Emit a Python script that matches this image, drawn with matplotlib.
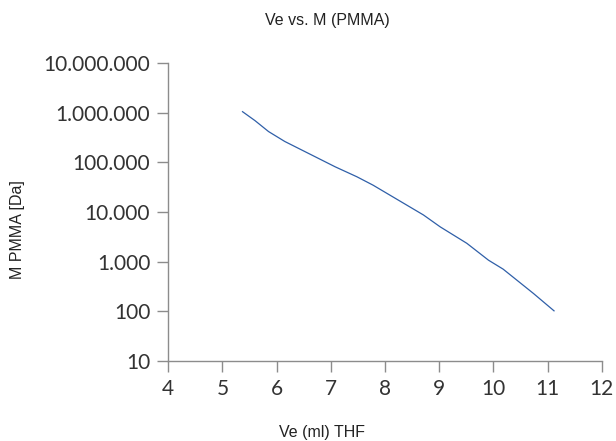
import matplotlib
matplotlib.use("Agg")
import matplotlib.pyplot as plt
from matplotlib import font_manager
from matplotlib.ticker import FixedLocator, FuncFormatter, NullLocator

# Elution volume (ml, THF) vs. molar mass of PMMA
ve_ml = [5.37, 5.60, 5.85, 6.15, 6.46, 6.77, 7.08, 7.48, 7.78, 8.09,
         8.40, 8.71, 9.02, 9.51, 9.91, 10.18, 10.74, 11.12]
log_m = [6.02, 5.84, 5.62, 5.42, 5.25, 5.08, 4.91, 4.71, 4.54, 4.34,
         4.14, 3.94, 3.70, 3.37, 3.03, 2.85, 2.36, 2.01]
mass_da = [10 ** v for v in log_m]

x_ticks = [4, 5, 6, 7, 8, 9, 10, 11, 12]
y_ticks = [10, 100, 1000, 10000, 100000, 1000000, 10000000]

names = {f.name for f in font_manager.fontManager.ttflist}
narrow = "Liberation Sans Narrow" if "Liberation Sans Narrow" in names else "Liberation Sans"
text_size = 14 if narrow == "Liberation Sans Narrow" else 11.5

W, H = 616, 441
fig = plt.figure(figsize=(W / 100, H / 100), dpi=100)
left, right, top, bottom = 168.3, 601.7, 63, 361
ax = fig.add_axes([left / W, 1 - bottom / H, (right - left) / W, (bottom - top) / H])

ax.plot(ve_ml, mass_da, color="#2f5fa8", linewidth=0.9)

ax.set_yscale("log")
ax.set_xlim(4, 12)
ax.set_ylim(10, 1e7)
ax.xaxis.set_major_locator(FixedLocator(x_ticks))
ax.yaxis.set_major_locator(FixedLocator(y_ticks))
ax.yaxis.set_minor_locator(NullLocator())
ax.yaxis.set_major_formatter(FuncFormatter(lambda v, p: f"{int(round(v)):,}".replace(",", ".")))

for s in ("top", "right"):
    ax.spines[s].set_visible(False)
for s in ("left", "bottom"):
    ax.spines[s].set_color("#8c8c8c")
    ax.spines[s].set_linewidth(1.0)
ax.tick_params(axis="both", length=8, width=1.0, color="#8c8c8c",
               labelsize=15, labelcolor="#333333", pad=5)
for lbl in ax.get_xticklabels() + ax.get_yticklabels():
    lbl.set_fontfamily("Lato")

fig.text(327 / W, 1 - 21 / H, "Ve vs. M (PMMA)", ha="center", va="center",
         fontsize=text_size, family=narrow, color="#222222")
fig.text(322 / W, 1 - 432 / H, "Ve (ml) THF", ha="center", va="center",
         fontsize=text_size, family=narrow, color="#222222")
fig.text(18 / W, 1 - 230 / H, "M PMMA [Da]", ha="center", va="center",
         rotation=90, fontsize=text_size, family=narrow, color="#222222")

fig.savefig("out.png", dpi=100)
